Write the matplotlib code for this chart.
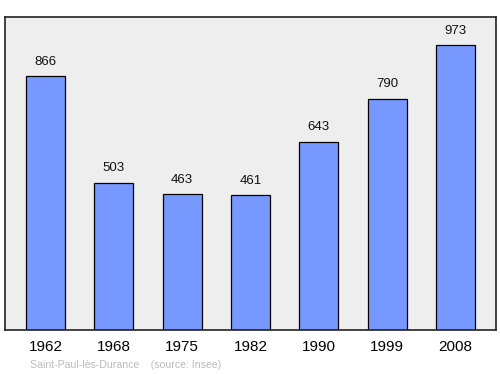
import matplotlib
matplotlib.use("Agg")
import matplotlib.pyplot as plt

plt.rcParams["font.family"] = ["Liberation Sans", "DejaVu Sans"]

years = ["1962", "1968", "1975", "1982", "1990", "1999", "2008"]
population = [866, 503, 463, 461, 643, 790, 973]

fig = plt.figure(figsize=(5.0, 3.74), dpi=100)
ax = fig.add_axes([0.010, 1 - 330/374, 0.982, (330-17)/374])
ax.set_facecolor("#eeeeee")
x = list(range(len(years)))
ax.bar(x, population, width=0.57, color="#7799ff", edgecolor="black", linewidth=0.9, zorder=2)
ax.set_xlim(-0.593, len(years) - 1 + 0.593)
ax.set_ylim(0, max(population) * 1.098)
for xi, v in zip(x, population):
    ax.annotate(str(v), (xi, v), xytext=(0, 6), textcoords="offset points",
                ha="center", va="bottom", fontsize=9.5, color="#111111")
ax.set_xticks(x)
ax.set_xticklabels(years, fontsize=11)
ax.tick_params(axis="x", length=0, pad=7)
ax.set_yticks([])
for s in ax.spines.values():
    s.set_linewidth(1.2)
    s.set_color("#222222")
fig.text(30/500, 1 - 365/374, "Saint-Paul-lès-Durance    (source: Insee)", fontsize=7.6,
         color="#bbbbbb", ha="left", va="center")
fig.savefig("out.png", dpi=100)
